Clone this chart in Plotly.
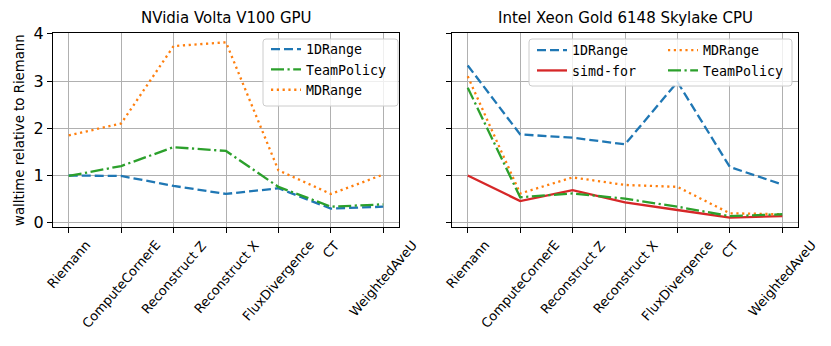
import plotly.graph_objects as go

kernels = ["Riemann", "ComputeCornerE", "Reconstruct Z", "Reconstruct X",
           "FluxDivergence", "CT", "WeightedAveU"]

# NVidia Volta V100 GPU
gpu_1drange = [1.00, 0.99, 0.78, 0.61, 0.73, 0.30, 0.34]
gpu_teampolicy = [0.99, 1.20, 1.60, 1.52, 0.76, 0.34, 0.39]
gpu_mdrange = [1.85, 2.10, 3.74, 3.82, 1.11, 0.61, 1.02]

# Intel Xeon Gold 6148 Skylake CPU
cpu_1drange = [3.33, 1.87, 1.80, 1.66, 2.98, 1.18, 0.81]
cpu_simdfor = [1.00, 0.46, 0.69, 0.43, 0.27, 0.11, 0.14]
cpu_mdrange = [3.10, 0.62, 0.96, 0.80, 0.76, 0.20, 0.18]
cpu_teampolicy = [2.86, 0.54, 0.62, 0.51, 0.34, 0.14, 0.18]

W, H = 831, 346
ML, MR, MT, MB = 53, 33, 33, 119
PW, PH = W - ML - MR, H - MT - MB

BLUE, ORANGE, GREEN, RED = "#1f77b4", "#ff7f0e", "#2ca02c", "#d62728"
DASH = "9px,4px"
DOT = "2.2px,3.6px"
DASHDOT = "13px,3.5px,2.2px,3.5px"
SANS = "DejaVu Sans"
MONO = "DejaVu Sans Mono"


def xp(px):
    return (px - ML) / PW


def yp(py):
    return (MT + PH - py) / PH


def rounded_box(x0, y0, x1, y1, r=3):
    # pixel box -> paper path with small rounded corners
    rx, ry = r / PW, r / PH
    a, b, c, d = xp(x0), yp(y1), xp(x1), yp(y0)
    return (f"M{a + rx},{b} L{c - rx},{b} Q{c},{b} {c},{b + ry} "
            f"L{c},{d - ry} Q{c},{d} {c - rx},{d} L{a + rx},{d} "
            f"Q{a},{d} {a},{d - ry} L{a},{b + ry} Q{a},{b} {a + rx},{b} Z")


fig = go.Figure()


def add(x, y, name, color, dash, xa, ya, legend):
    fig.add_scatter(x=x, y=y, name=name, mode="lines", xaxis=xa, yaxis=ya,
                    legend=legend, line=dict(color=color, dash=dash, width=2.3))


add(kernels, gpu_1drange, "1DRange", BLUE, DASH, "x", "y", "legend")
add(kernels, gpu_teampolicy, "TeamPolicy", GREEN, DASHDOT, "x", "y", "legend")
add(kernels, gpu_mdrange, "MDRange", ORANGE, DOT, "x", "y", "legend")

add(kernels, cpu_1drange, "1DRange", BLUE, DASH, "x2", "y2", "legend2")
add(kernels, cpu_simdfor, "simd-for", RED, "solid", "x2", "y2", "legend2")
add(kernels, cpu_mdrange, "MDRange", ORANGE, DOT, "x2", "y2", "legend3")
add(kernels, cpu_teampolicy, "TeamPolicy", GREEN, DASHDOT, "x2", "y2", "legend3")

axis_style = dict(
    showline=True, linecolor="black", linewidth=1.2, mirror=True,
    ticks="outside", ticklen=5, tickwidth=1.1, tickcolor="black",
    showgrid=True, gridcolor="#b0b0b0", gridwidth=1.1, zeroline=False,
    automargin=False,
)

fig.update_layout(
    width=W, height=H,
    margin=dict(l=ML, r=MR, t=MT, b=MB),
    plot_bgcolor="white", paper_bgcolor="white",
    font=dict(family=SANS, color="black"),
    xaxis=dict(domain=[0, xp(399)], range=[-0.3, 6.3], showticklabels=False, **axis_style),
    xaxis2=dict(domain=[xp(452), 1], range=[-0.3, 6.3], showticklabels=False,
                anchor="y2", **axis_style),
    yaxis=dict(range=[-0.09, 4.017], tickvals=[0, 1, 2, 3, 4],
               tickfont=dict(size=16), **axis_style),
    yaxis2=dict(range=[-0.09, 4.017], tickvals=[0, 1, 2, 3, 4], matches="y",
                showticklabels=False, anchor="x2", **axis_style),
)

legend_style = dict(xref="paper", yref="paper", xanchor="left", yanchor="top",
                    bgcolor="rgba(0,0,0,0)", borderwidth=0,
                    font=dict(family=MONO, size=13.3))
fig.update_layout(
    legend=dict(x=xp(266), y=yp(34), **legend_style),
    legend2=dict(x=xp(532), y=yp(35), **legend_style),
    legend3=dict(x=xp(663), y=yp(35), **legend_style),
)

fig.add_shape(type="path", path=rounded_box(263, 39, 398, 106), xref="paper", yref="paper",
              fillcolor="rgba(255,255,255,0.8)", line=dict(color="#cccccc", width=1), layer="above")
fig.add_shape(type="path", path=rounded_box(529, 39, 792, 86), xref="paper", yref="paper",
              fillcolor="rgba(255,255,255,0.8)", line=dict(color="#cccccc", width=1), layer="above")

# subplot titles
fig.add_annotation(text="NVidia Volta V100 GPU", x=xp(226), y=yp(18), xref="paper", yref="paper",
                   showarrow=False, xanchor="center", yanchor="middle", font=dict(size=15))
fig.add_annotation(text="Intel Xeon Gold 6148 Skylake CPU", x=xp(625), y=yp(18), xref="paper",
                   yref="paper", showarrow=False, xanchor="center", yanchor="middle",
                   font=dict(size=15))

# y label
fig.add_annotation(text="walltime relative to Riemann", x=xp(19), y=0.5, xref="paper", yref="paper",
                   showarrow=False, textangle=-90, xanchor="center", yanchor="middle",
                   font=dict(size=13.3))

# rotated x tick labels, centred on the ticks like matplotlib
for xa in ("x", "x2"):
    for k in kernels:
        fig.add_annotation(text=k, x=k, xref=xa, y=yp(235), yref="paper", showarrow=False,
                           textangle=-49, xanchor="center", yanchor="top",
                           font=dict(size=13))

fig.write_html("out.html", config={"displayModeBar": False},
               post_script="document.body.style.margin='0';")
